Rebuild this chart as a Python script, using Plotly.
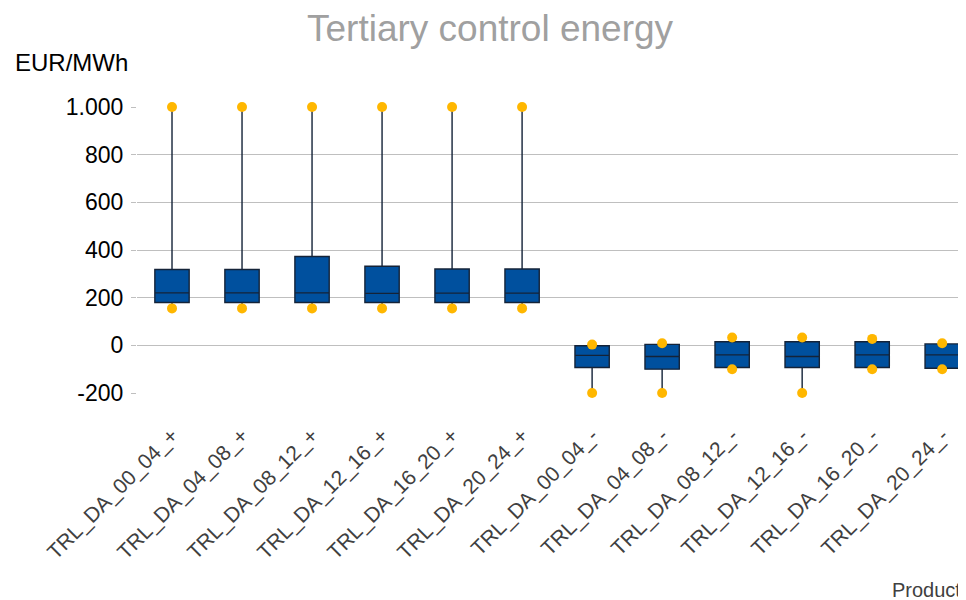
import plotly.graph_objects as go

categories = ["TRL_DA_00_04_+", "TRL_DA_04_08_+", "TRL_DA_08_12_+", "TRL_DA_12_16_+",
              "TRL_DA_16_20_+", "TRL_DA_20_24_+", "TRL_DA_00_04_-", "TRL_DA_04_08_-",
              "TRL_DA_08_12_-", "TRL_DA_12_16_-", "TRL_DA_16_20_-", "TRL_DA_20_24_-"]
min_vals = [155, 155, 155, 155, 155, 155, -200, -200, -100, -200, -100, -100]
q1_vals = [180, 180, 180, 180, 180, 180, -93, -100, -93, -93, -93, -96]
median_vals = [220, 220, 220, 218, 219, 219, -42, -47, -40, -47, -40, -40]
q3_vals = [318, 318, 373, 332, 320, 320, -2, 4, 15, 15, 15, 6]
max_vals = [1000, 1000, 1000, 1000, 1000, 1000, 3, 9, 33, 33, 27, 9]

y_tick_vals = [-200, 0, 200, 400, 600, 800, 1000]
y_tick_text = ["-200", "0", "200", "400", "600", "800", "1.000"]

FONT = "Liberation Sans, Arial, sans-serif"

fig = go.Figure()
fig.add_trace(go.Box(
    x=categories, q1=q1_vals, median=median_vals, q3=q3_vals,
    lowerfence=min_vals, upperfence=max_vals,
    fillcolor="#00509E", line=dict(color="#142338", width=1.4),
    whiskerwidth=0, boxpoints=False, showlegend=False, hoverinfo="skip",
))
fig.add_trace(go.Scatter(
    x=categories + categories, y=max_vals + min_vals, mode="markers",
    marker=dict(color="#FFB700", size=10), cliponaxis=False, showlegend=False,
    hoverinfo="skip",
))

fig.update_layout(
    width=966, height=600,
    margin=dict(l=129, r=8, t=99, b=215),
    paper_bgcolor="white", plot_bgcolor="white",
    font=dict(family=FONT, color="#000000"),
    title=dict(text="Tertiary control energy", x=0.499, xanchor="center",
               y=0.966, yanchor="middle", font=dict(size=37, color="#A0A0A0", family=FONT)),
    xaxis=dict(type="category", range=[-0.5, 11.34], tickangle=-45,
               tickfont=dict(size=21, color="#404040", family=FONT),
               ticks="outside", ticklen=21, tickcolor="rgba(0,0,0,0)",
               showgrid=False, showline=False, zeroline=False),
    yaxis=dict(range=[-200, 1000], tickvals=y_tick_vals, ticktext=y_tick_text,
               tickfont=dict(size=23, color="#000000", family=FONT),
               ticks="outside", ticklen=5, tickcolor="#BFBFBF",
               ticklabelstandoff=3,
               showgrid=True, gridcolor="#BFBFBF", gridwidth=1,
               zeroline=False, showline=False),
    annotations=[
        dict(text="EUR/MWh", xref="paper", yref="paper", x=-0.1496, y=1.157,
             xanchor="left", yanchor="middle", showarrow=False,
             font=dict(size=24, color="#000000", family=FONT)),
        dict(text="Product", xref="paper", yref="paper", x=0.996, y=-0.689,
             xanchor="right", yanchor="middle", showarrow=False,
             font=dict(size=20, color="#404040", family=FONT)),
    ],
)

fig.write_html("out.html")
